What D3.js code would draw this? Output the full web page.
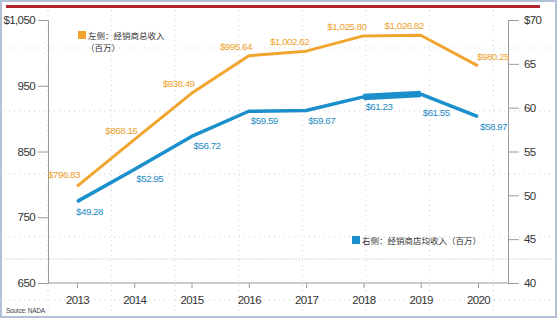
<!DOCTYPE html>
<html>
<head>
<meta charset="utf-8">
<script src="https://cdn.jsdelivr.net/npm/d3@7"></script>
<style>
  body { margin: 0; background: #fff; }
  .chart text { font-family: "Liberation Sans Narrow", "Arial Narrow", "Liberation Sans", sans-serif; }
  .axis text { font-size: 11.5px; fill: #333; letter-spacing: -0.6px; }
  .axis path, .axis line { stroke: #9a9a9a; }
  .vl { font-size: 9.8px; letter-spacing: -0.5px; }
  .lg text { font-family: "Noto Sans CJK SC", sans-serif; font-size: 8.5px; fill: #333; letter-spacing: 0; }
</style>
</head>
<body>
<div class="chart"></div>
<script>
// data
const years = ["2013", "2014", "2015", "2016", "2017", "2018", "2019", "2020"];
const totalRevenue = [796.83, 868.16, 938.49, 995.64, 1002.62, 1025.80, 1026.82, 980.25]; // left axis
const avgRevenue = [49.28, 52.95, 56.72, 59.59, 59.67, 61.23, 61.55, 58.97]; // right axis
const leftTicks = [650, 750, 850, 950, 1050];
const rightTicks = [40, 45, 50, 55, 60, 65, 70];

const width = 560, height = 322;
const orange = "#f2a52e", blue = "#1b8fcb";

const svg = d3.select(".chart").append("svg")
  .attr("width", width)
  .attr("height", height);

// frame + red bar
svg.append("rect")
  .attr("x", 1).attr("y", 1).attr("width", 555).attr("height", 316)
  .attr("fill", "none").attr("stroke", "#b3c0d6").attr("stroke-width", 2);
svg.append("rect")
  .attr("x", 6).attr("y", 5).attr("width", 534).attr("height", 3)
  .attr("fill", "#b1232d");

// faint template grid in the background
const bg = svg.append("g").attr("stroke", "#cfcfcf").attr("stroke-dasharray", "1,4");
d3.range(8).forEach(i => {
  bg.append("line").attr("x1", 48 + i * 63.6).attr("x2", 48 + i * 63.6)
    .attr("y1", 10).attr("y2", 315);
});
d3.range(5).forEach(i => {
  bg.append("line").attr("x1", 4).attr("x2", 554)
    .attr("y1", 48 + i * 63).attr("y2", 48 + i * 63);
});
svg.append("line").attr("x1", 4).attr("x2", 554).attr("y1", 259).attr("y2", 259)
  .attr("stroke", "#d8d8d8").attr("stroke-dasharray", "2,1");

// scales
const x = d3.scalePoint().domain(years).range([77, 478]);
const yL = d3.scaleLinear().domain([650, 1050]).range([283, 20]);
const yR = d3.scaleLinear().domain([40, 70]).range([283, 20]);

// axes
svg.append("g").attr("class", "axis")
  .attr("transform", "translate(48,0)")
  .call(d3.axisLeft(yL).tickValues(leftTicks).tickSize(10).tickPadding(3).tickSizeOuter(0)
    .tickFormat(d => d === 1050 ? "$1,050" : d));

svg.append("g").attr("class", "axis")
  .attr("transform", "translate(508,0)")
  .call(d3.axisRight(yR).tickValues(rightTicks).tickSize(11).tickPadding(5).tickSizeOuter(0)
    .tickFormat(d => d === 70 ? "$70" : d));

svg.append("line")
  .attr("x1", 48).attr("x2", 508).attr("y1", yL(650)).attr("y2", yL(650))
  .attr("stroke", "#9a9a9a");

const xAxis = svg.append("g").attr("class", "axis")
  .attr("transform", "translate(0," + yL(650) + ")")
  .call(d3.axisBottom(x).tickSize(5).tickPadding(8).tickSizeOuter(0));
xAxis.select(".domain").remove();

// lines
const lineL = d3.line().x((d, i) => x(years[i])).y(d => yL(d));
const lineR = d3.line().x((d, i) => x(years[i])).y(d => yR(d));

svg.append("path").datum(totalRevenue)
  .attr("d", lineL).attr("fill", "none")
  .attr("stroke", orange).attr("stroke-width", 3).attr("stroke-linejoin", "round");

svg.append("path").datum(avgRevenue)
  .attr("d", lineR).attr("fill", "none")
  .attr("stroke", blue).attr("stroke-width", 3.5).attr("stroke-linejoin", "round");

// thick bar between 2018 and 2019
svg.append("path")
  .datum(avgRevenue.slice(5, 7))
  .attr("d", d3.line().x((d, i) => x(years[i + 5])).y(d => yR(d)))
  .attr("stroke", blue).attr("stroke-width", 6.5);

// value labels
const fmt = d3.format("$,.2f");
svg.append("g").selectAll("text").data(totalRevenue).join("text")
  .attr("class", "vl")
  .attr("x", (d, i) => x(years[i]) + (i === 7 ? -1 : 3))
  .attr("y", (d, i) => yL(d) - (i === 0 ? 8 : 6))
  .attr("text-anchor", (d, i) => i === 7 ? "start" : "end")
  .attr("fill", "#eda22c")
  .text(fmt);

svg.append("g").selectAll("text").data(avgRevenue).join("text")
  .attr("class", "vl")
  .attr("x", (d, i) => x(years[i]) + (i === 0 ? -1 : 2))
  .attr("y", (d, i) => yR(d) + (i === 6 ? 22 : 13))
  .attr("fill", "#1f8cc6")
  .text(fmt);

// legends
const lg1 = svg.append("g").attr("class", "lg");
lg1.append("rect").attr("x", 78).attr("y", 31).attr("width", 8).attr("height", 8).attr("fill", orange);
lg1.append("text").attr("x", 88).attr("y", 38.5).text("左侧：经销商总收入");
lg1.append("text").attr("x", 86).attr("y", 50.5).text("（百万）");

const lg2 = svg.append("g").attr("class", "lg");
lg2.append("rect").attr("x", 352).attr("y", 236).attr("width", 8).attr("height", 8).attr("fill", blue);
lg2.append("text").attr("x", 362).attr("y", 243.5).text("右侧：经销商店均收入（百万）");

svg.append("text")
  .attr("x", 6).attr("y", 313)
  .attr("font-size", "6.5px").attr("fill", "#444").attr("letter-spacing", "-0.3px")
  .text("Source: NADA");
</script>
</body>
</html>
